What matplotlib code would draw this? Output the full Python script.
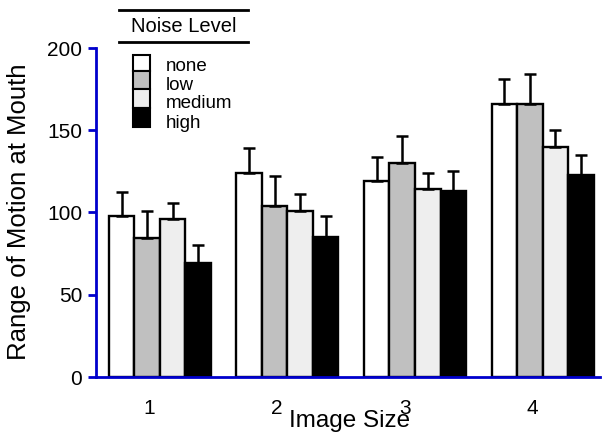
import matplotlib
matplotlib.use("Agg")
import matplotlib.pyplot as plt
from matplotlib.patches import Rectangle
from matplotlib.lines import Line2D
import numpy as np

plt.rcParams['font.family'] = ['Liberation Sans', 'DejaVu Sans']

categories = ['1', '2', '3', '4']
series_names = ['none', 'low', 'medium', 'high']
series_colors = ['#ffffff', '#c0c0c0', '#eeeeee', '#000000']
means = {
    'none':   [98, 124, 119, 166],
    'low':    [84.5, 104, 130, 166],
    'medium': [96, 101, 114.5, 140],
    'high':   [69, 85, 113, 122.5],
}
errors = {
    'none':   [14.5, 15, 14.5, 15],
    'low':    [16.5, 18, 16.5, 18],
    'medium': [10, 10, 9.5, 10],
    'high':   [11, 13, 12.5, 12.5],
}
y_ticks = [0, 50, 100, 150, 200]

W, H = 605, 436
fig = plt.figure(figsize=(W/100, H/100), dpi=100)
def fx(x): return x / W
def fy(y): return 1 - y / H

ax = fig.add_axes([fx(96), fy(377), fx(600) - fx(96), fy(48) - fy(377)])
x = np.arange(1, len(categories) + 1)
bw = 0.2
offsets = [-0.3, -0.1, 0.1, 0.3]
for name, col, off in zip(series_names, series_colors, offsets):
    ax.bar(x + off, means[name], width=bw, color=col, edgecolor='black',
           linewidth=1.7, zorder=2)
    ax.errorbar(x + off, means[name], yerr=[np.zeros(len(x)), errors[name]],
                fmt='none', ecolor='black', elinewidth=1.8, capsize=4,
                capthick=1.8, zorder=3)

ax.set_xlim(0.5, 4.45)
ax.set_ylim(0, 200)
ax.set_yticks(y_ticks)
ax.set_xticks(x - 0.08)
ax.set_xticklabels(categories)
for s in ['top', 'right']:
    ax.spines[s].set_visible(False)
for s in ['left', 'bottom']:
    ax.spines[s].set_color('#0000cc')
    ax.spines[s].set_linewidth(2)
ax.tick_params(axis='y', colors='#0000cc', width=2, length=6, labelsize=15,
               labelcolor='black', pad=4)
ax.tick_params(axis='x', length=0, labelsize=15, pad=16)
fig.text(fx(19), fy(212), 'Range of Motion at Mouth', rotation=90,
         ha='center', va='center', fontsize=18.5)
fig.text(fx(350), fy(421), 'Image Size', ha='center', va='center', fontsize=17.5)

# legend
fig.add_artist(Line2D([fx(119), fx(248)], [fy(10), fy(10)], color='black', lw=2))
fig.add_artist(Line2D([fx(119), fx(248)], [fy(42), fy(42)], color='black', lw=2))
fig.text(fx(184), fy(26), 'Noise Level', ha='center', va='center', fontsize=14.5)
tops = [55, 71, 89, 108]
bots = [71, 89, 108, 127]
baselines = [71, 90, 108, 128]
for name, col, t, b, bl in zip(series_names, series_colors, tops, bots, baselines):
    fig.add_artist(Rectangle((fx(133), fy(b)), fx(150) - fx(133), fy(t) - fy(b),
                             facecolor=col, edgecolor='black', lw=1.5))
    fig.text(fx(166), fy(bl), name, ha='left', va='baseline', fontsize=13.5)

fig.savefig('out.png', dpi=100)
